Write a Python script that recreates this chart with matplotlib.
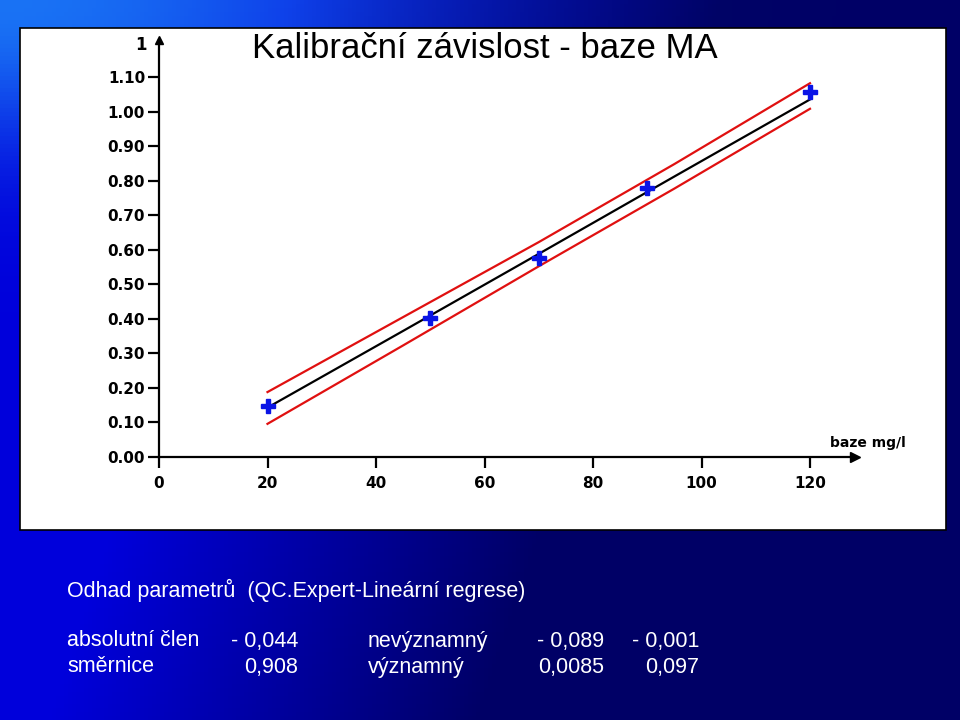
"""
Kalibracni zavislost - baze MA, recreated with matplotlib.
"""

import numpy as np
import matplotlib.pyplot as plt
from matplotlib.patches import Rectangle

# ----- Data -----
conc = [20, 50, 70, 90, 120]                  # baze mg/l
signal = [0.148, 0.402, 0.575, 0.779, 1.056]

fit_x = [20, 45, 70, 95, 120]
fit_y = [0.143, 0.365, 0.588, 0.812, 1.035]
upper_y = [0.188, 0.405, 0.622, 0.848, 1.082]
lower_y = [0.096, 0.323, 0.552, 0.777, 1.008]

y_ticks = [0.0, 0.1, 0.2, 0.3, 0.4, 0.5, 0.6, 0.7, 0.8, 0.9, 1.0, 1.1]
x_ticks = [0, 20, 40, 60, 80, 100, 120]

rows = [
    ("absolutní člen", "- 0,044", "nevýznamný", "- 0,089", "- 0,001"),
    ("směrnice", "0,908", "významný", "0,0085", "0,097"),
]

W, H = 960, 720
fig = plt.figure(figsize=(W / 100, H / 100), dpi=100)

# ----- Blue gradient background -----
bg = fig.add_axes([0, 0, 1, 1])
xx, yy = np.meshgrid(np.linspace(0, 1, 240), np.linspace(0, 1, 180))
t = np.clip((xx + 0.25 * yy - 0.3) / 0.45, 0, 1)
blue = 0.86 - 0.46 * t
glow = np.exp(-((xx / 0.4) ** 2 + (yy / 0.2) ** 2))
img = np.dstack([0.1 * glow, 0.45 * glow, np.clip(blue + 0.1 * glow, 0, 1)])
bg.imshow(img, extent=[0, 1, 0, 1], aspect="auto", origin="upper")
bg.set_axis_off()

# white chart panel
fig.patches.append(Rectangle((20 / W, 1 - 530 / H), 926 / W, 502 / H,
                             transform=fig.transFigure, facecolor="white",
                             edgecolor="black", linewidth=1.2, zorder=1))

# ----- Plot -----
x0, x120 = 159, 810
y0, y110 = 457, 77
ppx = (x120 - x0) / 120
ppy = (y0 - y110) / 1.1
right, top = 855, 40
ax = fig.add_axes([x0 / W, 1 - y0 / H, (right - x0) / W, (y0 - top) / H], zorder=2)
ax.set_facecolor("none")
ax.set_xlim(0, (right - x0) / ppx)
ax.set_ylim(0, (y0 - top) / ppy)

ax.plot(fit_x, upper_y, color="#e01010", lw=1.6)
ax.plot(fit_x, lower_y, color="#e01010", lw=1.6)
ax.plot(fit_x, fit_y, color="black", lw=1.6)
ax.plot(conc, signal, "P", color="#0a14e6", ms=10, mec="#0a14e6")

for s in ("top", "right"):
    ax.spines[s].set_visible(False)
for s in ("left", "bottom"):
    ax.spines[s].set_linewidth(1.6)

ax.set_xticks(x_ticks)
ax.set_yticks(y_ticks)
ax.set_yticklabels(["%.2f" % v for v in y_ticks])
ax.tick_params(direction="out", length=8, width=1.6, labelsize=11, pad=2)
for lab in ax.get_xticklabels() + ax.get_yticklabels():
    lab.set_fontweight("bold")
ax.tick_params(axis="x", pad=6)

# axis arrows
ax.plot(1, 0, ">k", ms=7, transform=ax.transAxes, clip_on=False)
ax.plot(0, 1, "^k", ms=6, transform=ax.transAxes, clip_on=False)

fig.text(141 / W, 1 - 45 / H, "1", fontsize=12, fontweight="bold",
         ha="center", va="center", zorder=3)
fig.text(868 / W, 1 - 443 / H, "baze mg/l", fontsize=10, fontweight="bold",
         ha="center", va="center", zorder=3)
fig.text(485 / W, 1 - 48 / H, "Kalibrační závislost - baze MA",
         fontsize=25, family="Liberation Sans", ha="center", va="center", zorder=3)

# ----- Text below the chart -----
txt = dict(color="white", fontsize=15.5, family="Liberation Sans", va="center")
fig.text(67 / W, 1 - 590 / H, "Odhad parametrů  (QC.Expert-Lineární regrese)", **txt)
for i, (name, est, sig, lo, hi) in enumerate(rows):
    y = 1 - (641 + 26 * i) / H
    fig.text(67 / W, y, name, ha="left", **txt)
    fig.text(298 / W, y, est, ha="right", **txt)
    fig.text(368 / W, y, sig, ha="left", **txt)
    fig.text(604 / W, y, lo, ha="right", **txt)
    fig.text(699 / W, y, hi, ha="right", **txt)

plt.savefig("out.png", dpi=100)
